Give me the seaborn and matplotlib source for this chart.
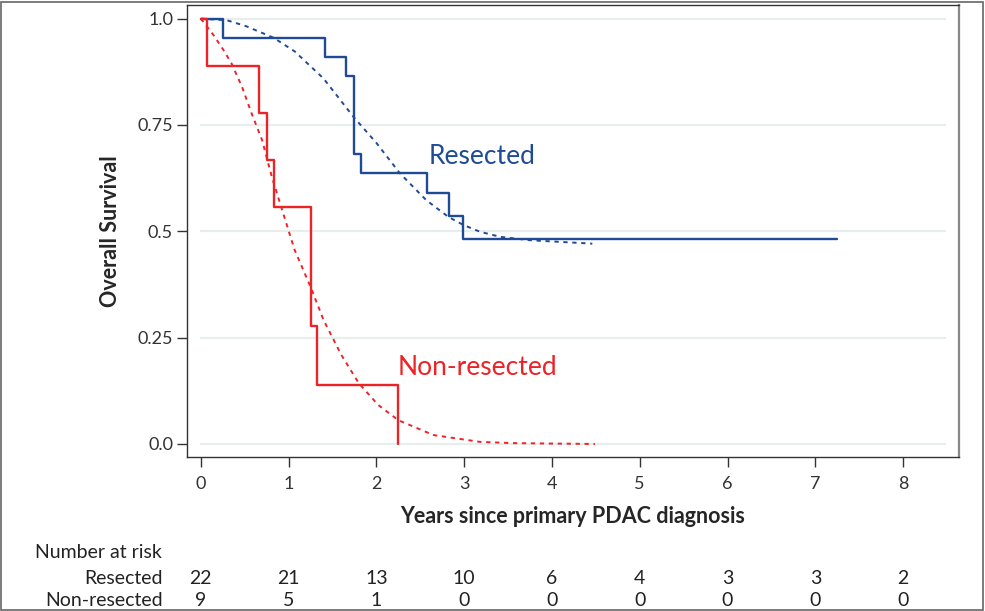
import pandas as pd
import numpy as np
import matplotlib
matplotlib.use("Agg")
import matplotlib.pyplot as plt
import matplotlib.transforms as mtransforms
from matplotlib.patches import Rectangle
import seaborn as sns

# Kaplan-Meier steps (years, survival)
resected_time = [0, 0.25, 1.41, 1.65, 1.75, 1.83, 2.58, 2.83, 2.99, 7.25]
resected_surv = [1.0, 0.955, 0.909, 0.864, 0.682, 0.636, 0.589, 0.535, 0.481, 0.481]
nonres_time = [0, 0.068, 0.667, 0.75, 0.834, 1.255, 1.33, 2.25]
nonres_surv = [1.0, 0.889, 0.778, 0.667, 0.556, 0.278, 0.139, 0.0]

# fitted (dashed) curves
resected_fit_time = [0, 0.30, 0.52, 0.83, 1.07, 1.40, 1.74, 2.00, 2.27, 2.57, 2.82, 2.99, 3.18, 3.41, 3.75, 4.10, 4.46]
resected_fit_surv = [1.0, 0.996, 0.982, 0.955, 0.923, 0.859, 0.769, 0.708, 0.636, 0.573, 0.534, 0.515, 0.499, 0.487, 0.479, 0.475, 0.471]
nonres_fit_time = [0, 0.14, 0.26, 0.35, 0.47, 0.58, 0.70, 0.81, 0.92, 1.07, 1.25, 1.40, 1.60, 1.80, 2.02, 2.25, 2.65, 3.18, 3.56, 4.0, 4.49]
nonres_fit_surv = [1.0, 0.963, 0.926, 0.895, 0.840, 0.777, 0.714, 0.628, 0.555, 0.456, 0.370, 0.291, 0.210, 0.143, 0.092, 0.056, 0.021, 0.005, 0.002, 0.001, 0.0]

# number at risk table
risk_years = [0, 1, 2, 3, 4, 5, 6, 7, 8]
risk_resected = [22, 21, 13, 10, 6, 4, 3, 3, 2]
risk_nonres = [9, 5, 1, 0, 0, 0, 0, 0, 0]

y_ticks = [0.0, 0.25, 0.5, 0.75, 1.0]
y_tick_labels = ["0.0", "0.25", "0.5", "0.75", "1.0"]

blue = "#1f4b94"
red = "#ec2327"

sns.set_style("white")
plt.rcParams['font.family'] = ['Lato', 'DejaVu Sans']

km = pd.DataFrame({
    "Years": resected_time + nonres_time,
    "Survival": resected_surv + nonres_surv,
    "Group": ["Resected"] * len(resected_time) + ["Non-resected"] * len(nonres_time),
})
fit = pd.DataFrame({
    "Years": resected_fit_time + nonres_fit_time,
    "Survival": resected_fit_surv + nonres_fit_surv,
    "Group": ["Resected"] * len(resected_fit_time) + ["Non-resected"] * len(nonres_fit_time),
})
palette = {"Resected": blue, "Non-resected": red}

fig = plt.figure(figsize=(9.85, 6.11), dpi=100)
ax = fig.add_axes([187 / 985, 1 - 457 / 611, (959 - 187) / 985, (457 - 5) / 611])

# light horizontal grid
ax.hlines(y_ticks, -0.01, 8.49, color="#e8eeee", lw=1.6, zorder=0)

sns.lineplot(data=fit, x="Years", y="Survival", hue="Group", palette=palette,
             estimator=None, sort=False, linestyle=(0, (2.2, 2.4)), lw=1.4,
             legend=False, ax=ax)
sns.lineplot(data=km, x="Years", y="Survival", hue="Group", palette=palette,
             estimator=None, sort=False, drawstyle="steps-post", lw=1.7,
             legend=False, ax=ax)

ax.text(2.6, 0.677, "Resected", color=blue, fontsize=19, ha="left", va="center")
ax.text(2.24, 0.179, "Non-resected", color=red, fontsize=19, ha="left", va="center")

ax.set_xlim(-0.156, 8.636)
ax.set_ylim(-0.0306, 1.032)
ax.set_xticks(risk_years)
ax.set_yticks(y_ticks)
ax.set_yticklabels(y_tick_labels)
ax.tick_params(axis="both", direction="out", length=7, width=1, color="#333333",
               labelcolor="#333333", labelsize=13, left=True, bottom=True)
ax.tick_params(axis="x", pad=7)
ax.tick_params(axis="y", pad=3)

for side in ["left", "bottom", "top"]:
    ax.spines[side].set_color("#333333")
    ax.spines[side].set_linewidth(1.0)
ax.spines["right"].set_color("#888888")
ax.spines["right"].set_linewidth(1.6)

ax.set_xlabel("Years since primary PDAC diagnosis", fontsize=15.5, fontweight="bold", labelpad=10)
ax.set_ylabel("Overall Survival", fontsize=15.5, fontweight="bold", labelpad=12)

# number at risk table below the axis
trans = mtransforms.blended_transform_factory(ax.transData, fig.transFigure)
fig.text(35 / 985, 1 - 553 / 611, "Number at risk", fontsize=14, color="#222222", ha="left", va="center")
fig.text(163 / 985, 1 - 578 / 611, "Resected", fontsize=14, color="#222222", ha="right", va="center")
fig.text(163 / 985, 1 - 601 / 611, "Non-resected", fontsize=14, color="#222222", ha="right", va="center")
for yr, a, b in zip(risk_years, risk_resected, risk_nonres):
    ax.text(yr, 1 - 578 / 611, str(a), transform=trans, fontsize=14, color="#222222", ha="center", va="center")
    ax.text(yr, 1 - 601 / 611, str(b), transform=trans, fontsize=14, color="#222222", ha="center", va="center")

# outer frame of the figure
fig.patches.append(Rectangle((0.001, 0.002), 0.997, 0.994, transform=fig.transFigure,
                             fill=False, edgecolor="#666666", lw=1.2))

fig.savefig("out.png", dpi=100)
